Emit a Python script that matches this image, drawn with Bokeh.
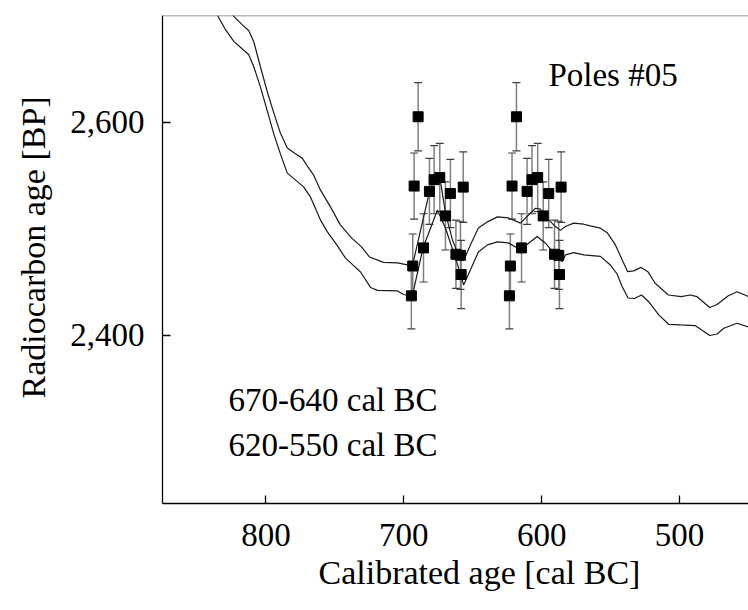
from bokeh.plotting import figure
from bokeh.models import (ColumnDataSource, Whisker, TeeHead, Label, Span, Title,
                          FixedTicker, NumeralTickFormatter, Range1d)
from bokeh.embed import file_html
from bokeh.resources import INLINE

# Calibration curve band (upper and lower bounds), cal BC vs 14C BP
upper_x = [830.0, 824.5, 817.3, 812.4, 808.8, 804.0, 799.0, 794.3, 789.5, 784.5,
           778.6, 773.7, 770.0, 765.5, 760.5, 753.2, 746.0, 737.9, 730.7, 724.9,
           714.7, 704.6, 693.8, 681.4, 678.1, 673.9, 669.8, 664.7, 661.1, 656.7,
           651.7, 645.9, 639.3, 632.1, 624.1, 615.4, 609.4, 604.5, 600.9, 598.5,
           590.0, 586.4, 582.8, 576.8, 569.5, 564.7, 557.4, 552.5, 546.5, 541.6,
           537.6, 533.3, 527.9, 523.0, 517.7, 508.1, 498.8, 492.3, 487.3, 478.1,
           472.8, 464.9, 458.3, 450.1, 447.1]
upper_y = [2710, 2700.8, 2691.4, 2685.7, 2675.4, 2651.9, 2628.5, 2608.7, 2589.7, 2575.6,
           2570.2, 2566.2, 2559.0, 2550.5, 2536.4, 2520.5, 2503.6, 2491.4, 2482.9, 2473.5,
           2468.4, 2467.9, 2465.1, 2534.5, 2545.8, 2548.6, 2514.8, 2489.5, 2477.3, 2469.8,
           2484.8, 2500.7, 2506.4, 2511.1, 2510.1, 2505.2, 2513.0, 2519.2, 2518.3, 2513.0,
           2502.0, 2498.4, 2502.0, 2505.2, 2504.2, 2502.6, 2500.5, 2496.3, 2484.8, 2470.7,
           2459.7, 2460.4, 2463.7, 2459.7, 2448.8, 2437.8, 2436.2, 2437.8, 2436.2, 2426.1,
           2428.9, 2436.9, 2440.9, 2436.4, 2435.0]

lower_x = [839.5, 835.4, 829.3, 823.3, 817.3, 812.4, 808.8, 804.0, 799.0, 794.3,
           789.5, 784.5, 778.6, 772.7, 767.7, 760.5, 755.4, 748.1, 742.4, 735.8,
           731.4, 724.1, 719.1, 704.6, 700.2, 693.9, 686.0, 675.6, 669.8, 662.5,
           656.6, 651.7, 645.9, 639.3, 632.1, 624.1, 615.4, 609.4, 603.3, 597.3,
           590.0, 585.2, 582.8, 576.8, 569.5, 557.4, 550.2, 545.3, 541.6, 537.3,
           532.7, 527.6, 522.4, 515.1, 507.9, 499.3, 488.5, 478.1, 472.8, 467.9,
           458.3, 450.1, 447.1]
lower_y = [2710, 2700.8, 2686.7, 2675.7, 2668.8, 2663.2, 2651.9, 2633.1, 2610.6, 2589.0,
           2570.2, 2552.1, 2545.8, 2539.2, 2529.8, 2508.3, 2497.0, 2483.9, 2472.6, 2464.6,
           2459.4, 2444.9, 2442.1, 2441.6, 2438.3, 2436.6, 2482.2, 2517.6, 2500.7, 2472.6,
           2447.2, 2461.3, 2478.2, 2484.8, 2487.6, 2486.7, 2480.1, 2486.4, 2492.6, 2486.4,
           2475.4, 2469.1, 2475.4, 2477.6, 2475.4, 2474.0, 2466.0, 2457.5, 2445.6, 2435.0,
           2434.5, 2437.8, 2431.5, 2419.1, 2410.3, 2409.7, 2409.0, 2399.8, 2401.2, 2406.6,
           2411.3, 2407.8, 2406.8]

# Tree-ring samples: 14C ages and 1-sigma errors
sample_bp = [2437, 2465, 2540, 2605, 2482, 2535, 2546, 2548, 2512, 2533,
             2476, 2475, 2457, 2539]
sample_err = [31, 30, 31, 32, 32, 31, 32, 32, 32, 32, 32, 32, 32, 33]

# Wiggle-match position 1 and 2 (cal BC)
pos1_x = [694.5, 693.5, 692.5, 689.6, 685.7, 681.4, 678.0, 673.9, 669.8, 666.2,
          662.2, 658.9, 658.4, 656.9]
pos2_x = [623.4, 622.7, 621.5, 618.3, 614.6, 610.6, 607.0, 602.9, 598.9, 594.9,
          590.7, 587.6, 587.1, 585.9]

x_ticks = [800, 700, 600, 500]
y_ticks = [2400, 2600]

FONT = "'Liberation Serif', 'Times New Roman', serif"
FS = "33px"

p = figure(width=748, height=610, output_backend="svg", toolbar_location=None,
           x_range=Range1d(875, 450), y_range=Range1d(2242.2, 2700),
           min_border_left=162, min_border_top=15, min_border_right=0,
           min_border_bottom=107)
p.outline_line_color = None
p.background_fill_color = "white"
p.border_fill_color = "white"
p.grid.visible = False

for ax in (p.xaxis[0], p.yaxis[0]):
    ax.major_tick_in = 8
    ax.major_tick_out = 0
    ax.minor_tick_in = 0
    ax.minor_tick_out = 0
    ax.axis_line_color = "black"
    ax.axis_line_width = 1.3
    ax.major_tick_line_color = "black"
    ax.major_tick_line_width = 1.3
    ax.major_label_text_font = FONT
    ax.major_label_text_font_size = FS
    ax.major_label_text_color = "black"

p.xaxis.ticker = FixedTicker(ticks=x_ticks)
p.yaxis.ticker = FixedTicker(ticks=y_ticks)
p.yaxis.formatter = NumeralTickFormatter(format="0,0")
p.xaxis.major_label_standoff = 20
p.yaxis.major_label_standoff = 18

# axis titles (the original x axis runs on past the cropped right edge)
p.add_layout(Title(text="Calibrated age [cal BC]", align="left", offset=156,
                   text_font=FONT, text_font_size="34px", text_font_style="normal",
                   text_color="black", standoff=6), "below")
p.add_layout(Title(text="Radiocarbon age [BP]", align="left", offset=105,
                   vertical_align="top",
                   text_font=FONT, text_font_size="34px", text_font_style="normal",
                   text_color="black", standoff=28), "left")

p.add_layout(Span(location=2700, dimension="width", line_color="#777777",
                  line_width=1.5))

p.line(upper_x, upper_y, line_color="#1a1a1a", line_width=1.2)
p.line(lower_x, lower_y, line_color="#1a1a1a", line_width=1.2)

for xs in (pos1_x, pos2_x):
    src = ColumnDataSource(dict(
        x=xs, y=sample_bp,
        up=[b + e for b, e in zip(sample_bp, sample_err)],
        lo=[b - e for b, e in zip(sample_bp, sample_err)]))
    w = Whisker(base="x", upper="up", lower="lo", source=src, dimension="height",
                line_color="#808080", line_width=1.5,
                upper_head=TeeHead(size=8, line_color="#404040", line_width=1.2),
                lower_head=TeeHead(size=8, line_color="#404040", line_width=1.2))
    p.add_layout(w)
    p.scatter("x", "y", source=src, marker="square", size=10,
              fill_color="black", line_color="black")

p.add_layout(Label(x=595.1, y=2644.4, text="Poles #05", text_font=FONT,
                   text_font_size=FS, text_baseline="alphabetic",
                   text_color="black"))
p.add_layout(Label(x=827.1, y=2339.3, text="670-640 cal BC", text_font=FONT,
                   text_font_size=FS, text_baseline="alphabetic",
                   text_color="black"))
p.add_layout(Label(x=827.1, y=2297.4, text="620-550 cal BC", text_font=FONT,
                   text_font_size=FS, text_baseline="alphabetic",
                   text_color="black"))

open("out.html", "w").write(file_html(p, INLINE))
